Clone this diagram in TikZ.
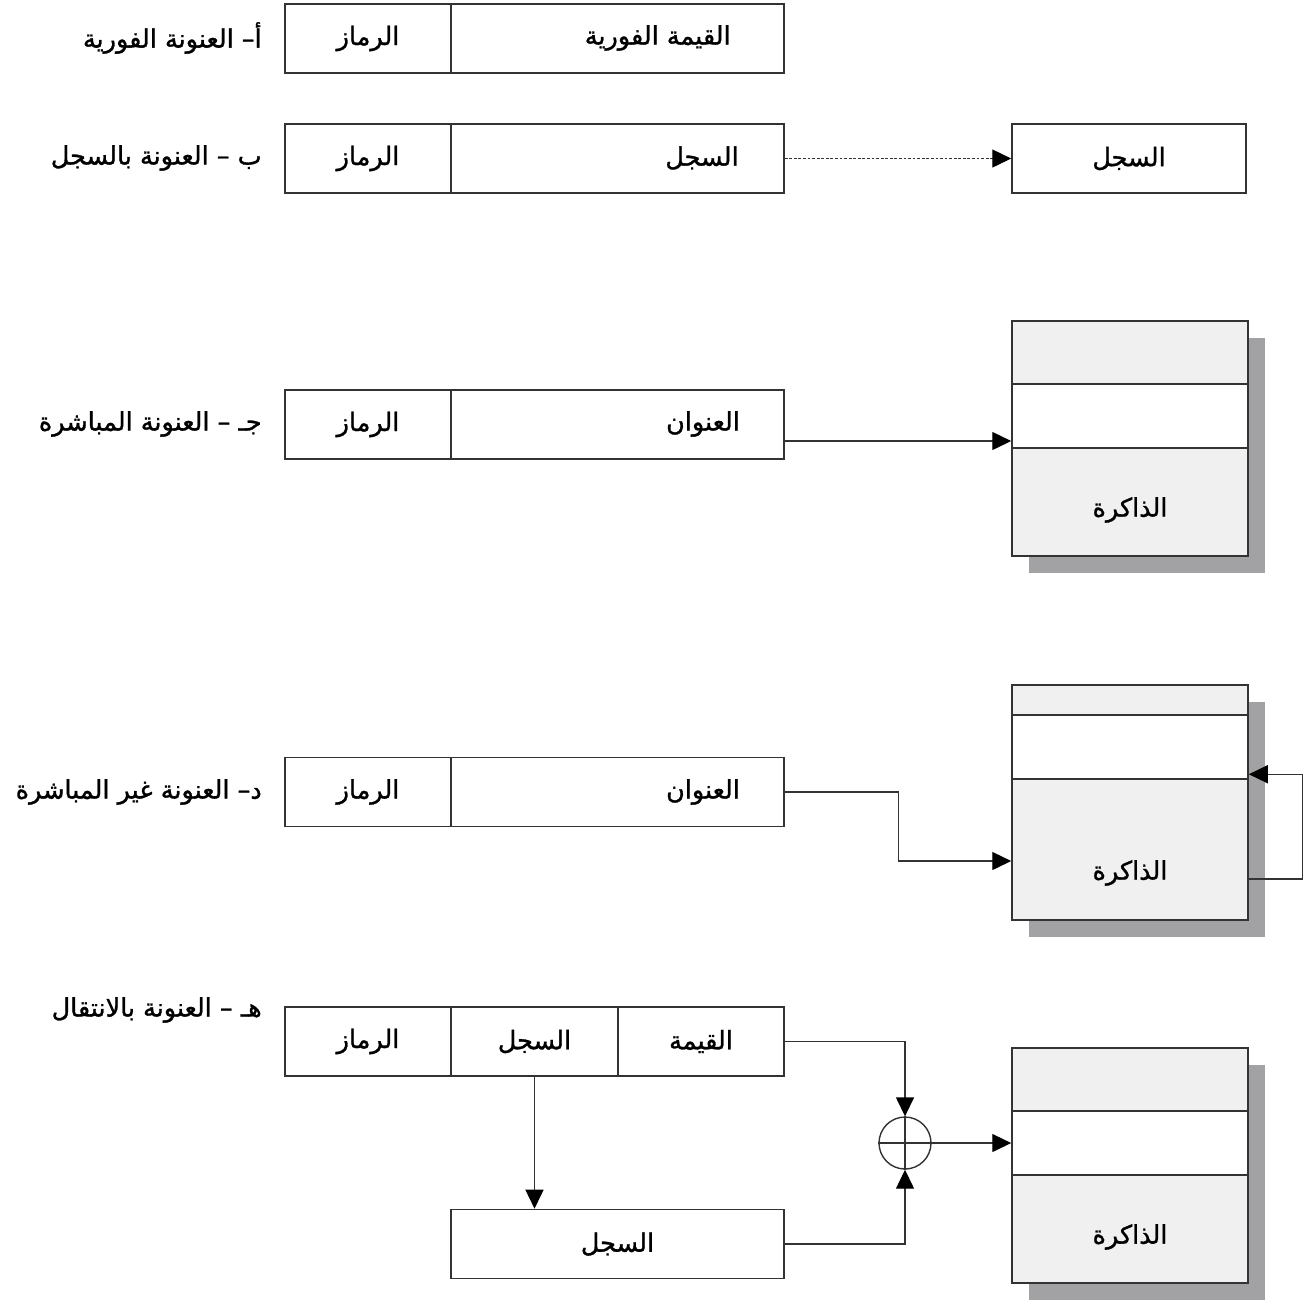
\documentclass[tikz,border=0pt]{standalone}
\usepackage{fontspec}
\newfontfamily\arabicfont[Script=Arabic,FakeBold=1.2]{DejaVu Sans}
\TeXXeTstate=1
\usetikzlibrary{arrows.meta}
\definecolor{cellgray}{HTML}{F0F0F0}
\definecolor{shadowgray}{HTML}{A2A2A4}
\definecolor{linec}{HTML}{333333}
\newcommand{\artxt}[1]{\beginR #1\endR}
\begin{document}
\begin{tikzpicture}[x=0.02cm,y=-0.02cm,
  cell/.style={draw=linec,line width=0.9pt,inner sep=0pt,minimum height=1.38cm,
    font=\arabicfont\fontsize{14.5}{16}\selectfont},
  txt/.style={font=\arabicfont\fontsize{14.5}{16}\selectfont,inner sep=0pt},
  lbl/.style={txt,anchor=east},
  memsec/.style={draw=linec,line width=0.9pt,inner sep=0pt,minimum width=4.72cm},
  arr/.style={draw=linec,line width=0.8pt,-{Triangle[length=0.38cm,width=0.36cm,color=black]}},
  conn/.style={draw=linec,line width=0.8pt},
]
\useasboundingbox (0,0) rectangle (1307,1303);

% ---------- row a ----------
\node[lbl] (la) at (262,38) {\artxt{أ– العنونة الفورية}};
\node[cell,minimum width=3.32cm] (a1) at (368,38.5) {\artxt{الرماز}};
\node[cell,minimum width=6.66cm] (a2) at (617.5,38.5) {};
\node[txt,anchor=east] (a2t) at (731,38) {\artxt{القيمة الفورية}};

% ---------- row b ----------
\node[lbl] (lb) at (262,158) {\artxt{ب – العنونة بالسجل}};
\node[cell,minimum width=3.32cm] (b1) at (368,158.5) {\artxt{الرماز}};
\node[cell,minimum width=6.66cm] (b2) at (617.5,158.5) {};
\node[txt] (b2t) at (702,158) {\artxt{السجل}};
\node[cell,minimum width=4.68cm] (rb) at (1129,158.5) {\artxt{السجل}};
\draw[arr,dash pattern=on 1.6pt off 1pt] (b2.east) -- (rb.west);

% ---------- row c ----------
\node[lbl] (lc) at (262,424) {\artxt{جـ – العنونة المباشرة}};
\node[cell,minimum width=3.32cm] (c1) at (368,424.5) {\artxt{الرماز}};
\node[cell,minimum width=6.66cm] (c2) at (617.5,424.5) {};
\node[txt] (c2t) at (703,424) {\artxt{العنوان}};
\fill[shadowgray] (1029,338) rectangle (1265,573);
\node[memsec,fill=cellgray,minimum height=1.26cm] (mct) at (1130,352.5) {};
\node[memsec,fill=white,minimum height=1.28cm] (mcm) at (1130,416) {};
\node[memsec,fill=cellgray,minimum height=2.16cm] (mcb) at (1130,502) {};
\node[txt] (mcbt) at (1130,510) {\artxt{الذاكرة}};
\draw[arr] ([yshift=-0.33cm]c2.east) -- ([yshift=-0.33cm]c2.east -| mcm.west);

% ---------- row d ----------
\node[lbl] (ld) at (262,792) {\artxt{د– العنونة غير المباشرة}};
\node[cell,minimum width=3.32cm] (d1) at (368,792) {\artxt{الرماز}};
\node[cell,minimum width=6.66cm] (d2) at (617.5,792) {};
\node[txt] (d2t) at (703,792) {\artxt{العنوان}};
\fill[shadowgray] (1029,702) rectangle (1265,937);
\node[memsec,fill=cellgray,minimum height=0.6cm] (mdt) at (1130,700) {};
\node[memsec,fill=white,minimum height=1.28cm] (mdm) at (1130,747) {};
\node[memsec,fill=cellgray,minimum height=2.82cm] (mdb) at (1130,849.5) {};
\node[txt] (mdbt) at (1130,873) {\artxt{الذاكرة}};
\draw[arr] (d2.east) -- ++(114,0) |- ([yshift=-0.23cm]mdb.west);
\draw[arr] ([yshift=-0.59cm]mdb.east) -- ++(54,0) |- ([yshift=0.08cm]mdb.north east);

% ---------- row e ----------
\node[lbl] (le) at (262,1010) {\artxt{هـ – العنونة بالانتقال}};
\node[cell,minimum width=3.32cm] (e1) at (368,1041.5) {\artxt{الرماز}};
\node[cell,minimum width=3.34cm] (e2) at (534.5,1041.5) {\artxt{السجل}};
\node[cell,minimum width=3.32cm] (e3) at (701,1041.5) {\artxt{القيمة}};
\node[cell,minimum width=6.66cm] (re) at (617.5,1244) {\artxt{السجل}};
\node[draw=linec,line width=0.8pt,circle,minimum size=1.04cm,inner sep=0pt] (sum) at (905,1143) {};
\draw[conn] (sum.north) -- (sum.south) (sum.west) -- (sum.east);
\fill[shadowgray] (1029,1065) rectangle (1265,1300);
\node[memsec,fill=cellgray,minimum height=1.26cm] (met) at (1130,1079.5) {};
\node[memsec,fill=white,minimum height=1.28cm] (mem) at (1130,1143) {};
\node[memsec,fill=cellgray,minimum height=2.16cm] (meb) at (1130,1229) {};
\node[txt] (mebt) at (1130,1237) {\artxt{الذاكرة}};
\draw[arr] (e3.east) -| (sum.north);
\draw[arr] (re.east) -| (sum.south);
\draw[arr] (e2.south) -- (e2.south |- re.north);
\draw[arr] (sum.east) -- (sum.east -| mem.west);
\end{tikzpicture}
\end{document}
